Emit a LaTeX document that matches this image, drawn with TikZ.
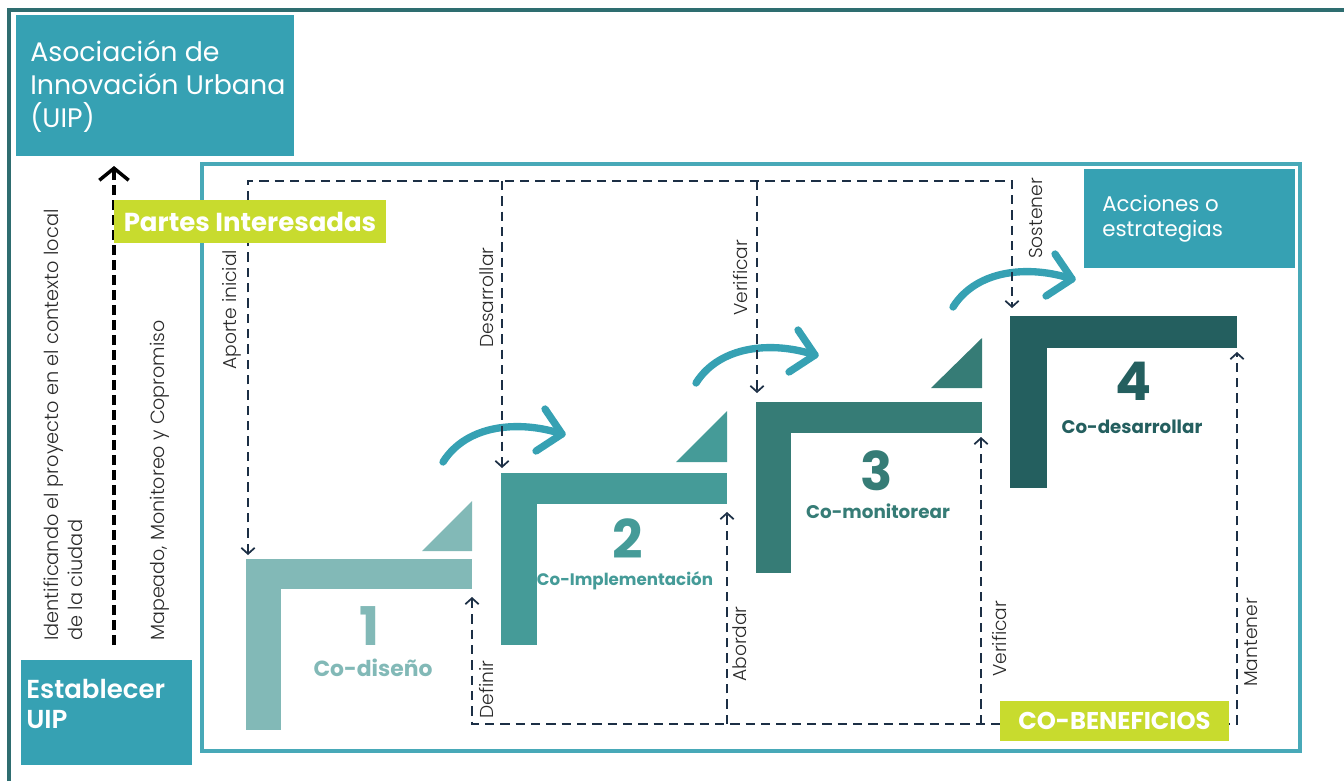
\documentclass[tikz,border=0pt]{standalone}
\usepackage{fontspec}
\setmainfont{Poppins}
\IfFontExistsTF{Poppins Light}
  {\newfontfamily\lightfont{Poppins Light}}
  {\newfontfamily\lightfont{Poppins}}
\IfFontExistsTF{Poppins SemiBold}
  {\newfontfamily\semifont{Poppins SemiBold}}
  {\newfontfamily\semifont{Poppins}[UprightFont=*-Bold]}
\usetikzlibrary{arrows.meta,calc}

\definecolor{uipblue}{HTML}{36A1B3}
\definecolor{framedark}{HTML}{2E6D70}
\definecolor{framelight}{HTML}{48A9B8}
\definecolor{lime}{HTML}{C8DB2E}
\definecolor{stepA}{HTML}{82B9B7}
\definecolor{stepB}{HTML}{459B98}
\definecolor{stepC}{HTML}{367C76}
\definecolor{stepD}{HTML}{245F5F}
\definecolor{navy}{HTML}{1C2F45}
\definecolor{labelgray}{HTML}{2A2A2A}

\newcommand\setfs[2]{\fontsize{#1}{#2}\selectfont}

\begin{document}
\begin{tikzpicture}[x=0.75pt,y=-0.75pt,
  panel/.style={fill=#1, draw=none, inner sep=0pt, outer sep=0pt, anchor=north west},
  bar/.style={fill=#1, draw=none, inner sep=0pt, outer sep=0pt, anchor=north west},
  boxtext/.style={text=white, inner sep=0pt, align=left, anchor=west},
  rlabel/.style={rotate=90, anchor=west, inner sep=0pt, text=labelgray, font=\lightfont\setfs{14}{16}},
  stepnum/.style={anchor=base, inner sep=0pt, font=\bfseries\setfs{40}{40}},
  stepname/.style={anchor=base, inner sep=0pt, font=\bfseries\setfs{12.5}{14}},
  dashlink/.style={draw=navy, line width=1.5pt, dash pattern=on 7pt off 4.5pt},
  tipend/.tip={Straight Barb[length=4.5pt,width=10pt,line width=1.3pt]},
  flow/.style={draw=uipblue, line width=5.5pt, line cap=round, line join=round},
]
\useasboundingbox (0,0) rectangle (1344,781);

% frames
\draw[framedark, line width=3pt] (9,781) -- (9,10) -- (1344,10);
\draw[framelight, line width=3pt] (202,164) rectangle (1300,751);

% top-left association box
\node[panel=uipblue, minimum width={278*0.75pt}, minimum height={141*0.75pt}] (uip) at (16,15) {};
\node[boxtext, font=\setfs{20.1}{24.75}] (uiptext) at (30,86) {Asociación de\\Innovación Urbana\\(UIP)};

% establish box
\node[panel=uipblue, minimum width={171*0.75pt}, minimum height={105*0.75pt}] (est) at (21,660) {};
\node[boxtext, font=\semifont\setfs{19.5}{23}] (esttext) at (26,704) {Establecer\\UIP};

% actions box
\node[panel=uipblue, minimum width={211*0.75pt}, minimum height={99*0.75pt}] (acc) at (1084,169) {};
\node[boxtext, font=\setfs{16}{18.75}] (acctext) at (1102,219) {Acciones o\\estrategias};

% big dashed arrow on the left
\coordinate (bigS) at (114,645);
\coordinate (bigE) at (114,166);
\draw[line width=3pt, dash pattern=on 7.5pt off 3.75pt,
      -{Straight Barb[length=9pt,width=22pt,line width=2.6pt]}] (bigS) -- (bigE);

% left rotated texts
\node[rotate=90, anchor=north west, align=left, inner sep=0pt, text=labelgray,
      font=\lightfont\setfs{14.5}{18}] (ident) at (44,641)
      {Identificando el proyecto en el contexto local\\de la ciudad};
\node[rotate=90, anchor=west, inner sep=0pt, text=labelgray, font=\lightfont\setfs{14.3}{16}] (mapeo) at (160,641)
      {Mapeado, Monitoreo y Copromiso};

% steps: horizontal and vertical bars
\node[bar=stepA, minimum width={226*0.75pt}, minimum height={30*0.75pt}] (h1) at (246,559) {};
\node[bar=stepA, minimum width={35*0.75pt}, minimum height={171*0.75pt}] (v1) at (246,559) {};
\node[bar=stepB, minimum width={226*0.75pt}, minimum height={31*0.75pt}] (h2) at (501,473) {};
\node[bar=stepB, minimum width={36*0.75pt}, minimum height={172*0.75pt}] (v2) at (501,473) {};
\node[bar=stepC, minimum width={226*0.75pt}, minimum height={31*0.75pt}] (h3) at (756,402) {};
\node[bar=stepC, minimum width={35*0.75pt}, minimum height={171*0.75pt}] (v3) at (756,402) {};
\node[bar=stepD, minimum width={227*0.75pt}, minimum height={32*0.75pt}] (h4) at (1010,316) {};
\node[bar=stepD, minimum width={37*0.75pt}, minimum height={172*0.75pt}] (v4) at (1010,316) {};

% corner triangles
\fill[stepA] (422,551) -- (472,501) -- (472,551) -- cycle;
\fill[stepB] (676,462) -- (727,411) -- (727,462) -- cycle;
\fill[stepC] (931,388) -- (982,338) -- (982,388) -- cycle;

% step numbers and names
\node[stepnum, text=stepA] (n1) at (370,645) {1};
\node[stepname, text=stepA, font=\bfseries\setfs{16.4}{18}] (s1) at (373,676) {Co-diseño};
\node[stepnum, text=stepB] (n2) at (628,558) {2};
\node[stepname, text=stepB] (s2) at (625,585) {Co-Implementación};
\node[stepnum, text=stepC] (n3) at (877,490) {3};
\node[stepname, text=stepC, font=\bfseries\setfs{13.75}{16}] (s3) at (878,518) {Co-monitorear};
\node[stepnum, text=stepD] (n4) at (1134,400) {4};
\node[stepname, text=stepD, font=\bfseries\setfs{13.7}{16}] (s4) at (1132,433) {Co-desarrollar};

% curved progress arrows
\foreach \sx/\sy in {443/462, 696/383, 953/307}{
  \draw[flow] (\sx,\sy) .. controls ++(24,-38) and ++(-42,-14) .. ++(119,-28);
  \draw[flow] ($(\sx,\sy)+(102,-53)$) -- ($(\sx,\sy)+(119,-28)$) -- ($(\sx,\sy)+(93,-11)$);
}

% top dashed feed lines
\coordinate (tl) at (248,181);
\coordinate (t2) at (502,181);
\coordinate (t3) at (757,181);
\coordinate (tr) at (1012,181);
\draw[dashlink, tipend-tipend] ($(h1.north west)+(2,-4)$) -- (tl) -- (tr) -- ($(h4.north west)+(2,-8)$);
\draw[dashlink, -tipend] (t2) -- ($(h2.north west)+(1,-5)$);
\draw[dashlink, -tipend] (t3) -- ($(h3.north west)+(1,-9)$);

% bottom dashed return lines
\coordinate (bl) at (472,724);
\coordinate (b2) at (727,724);
\coordinate (b3) at (981,724);
\coordinate (br) at (1237,724);
\draw[dashlink, tipend-tipend] ($(h1.south east)+(0,8)$) -- (bl) -- (br) -- ($(h4.south east)+(0,4)$);
\draw[dashlink, -tipend] (b2) -- ($(h2.south east)+(0,8)$);
\draw[dashlink, -tipend] (b3) -- ($(h3.south east)+(-1,4)$);

% dashed line labels
\node[rlabel] (lap) at (232,370) {Aporte inicial};
\node[rlabel] (lde) at (487,348) {Desarrollar};
\node[rlabel] (lv1) at (740,316) {Verificar};
\node[rlabel] (lso) at (1036,259) {Sostener};
\node[rlabel] (ldf) at (487,719) {Definir};
\node[rlabel] (lab) at (740,682) {Abordar};
\node[rlabel] (lv2) at (999,677) {Verificar};
\node[rlabel] (lma) at (1251,687) {Mantener};

% highlighted tags
\node[panel=lime, anchor=center, minimum width={272*0.75pt}, minimum height={43*0.75pt},
      text=white, font=\bfseries\setfs{19.5}{22}] (partes) at (250,221.5) {Partes Interesadas};
\node[panel=lime, anchor=center, minimum width={229*0.75pt}, minimum height={40*0.75pt},
      text=white, font=\bfseries\setfs{18.2}{20}] (cob) at (1114.5,721) {CO-BENEFICIOS};
\end{tikzpicture}
\end{document}
